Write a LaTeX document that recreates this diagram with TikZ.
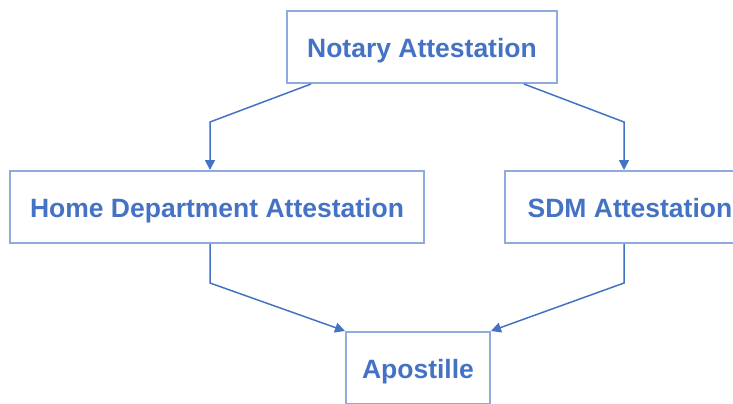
\documentclass[tikz,border=0pt]{standalone}
\usepackage{fontspec}
\setmainfont{Liberation Sans}
\usetikzlibrary{arrows.meta}

\definecolor{boxline}{HTML}{8FAADC}
\definecolor{textblue}{HTML}{4472C4}

\tikzset{
  stepbox/.style={draw=boxline, line width=1pt, minimum height=36pt, inner sep=0pt,
    text height=10.5pt, text depth=0pt,
    font=\fontsize{13.25}{16}\selectfont\bfseries, text=textblue},
  link/.style={draw=textblue, line width=0.75pt, -{Triangle[length=5pt,width=5pt]}}
}

\begin{document}
\begin{tikzpicture}[x=0.5pt,y=-0.5pt]
            \useasboundingbox (0,0) rectangle (733,403);

            % boxes
            \node[stepbox, minimum width=135pt] (notary) at (422,47) {Notary Attestation};
            \node[stepbox, minimum width=207pt] (home) at (217,207) {Home Department Attestation};
            \node[stepbox, minimum width=125pt] (sdm) at (630,207) {SDM Attestation};
            \node[stepbox, minimum width=72pt] (apostille) at (418,368) {Apostille};

            % bends
            \coordinate (nl) at (210,122);
            \coordinate (nr) at (624,122);
            \coordinate (hl) at (210,283);
            \coordinate (sr) at (624,283);

            \draw[link] ([xshift=12.5pt]notary.south west) -- (nl) -- (home.north -| nl);
            \draw[link] ([xshift=-17pt]notary.south east) -- (nr) -- (sdm.north -| nr);

            \draw[link] (home.south -| hl) -- (hl) -- (apostille.north west);
            \draw[link] (sdm.south -| sr) -- (sr) -- (apostille.north east);
\end{tikzpicture}
\end{document}
